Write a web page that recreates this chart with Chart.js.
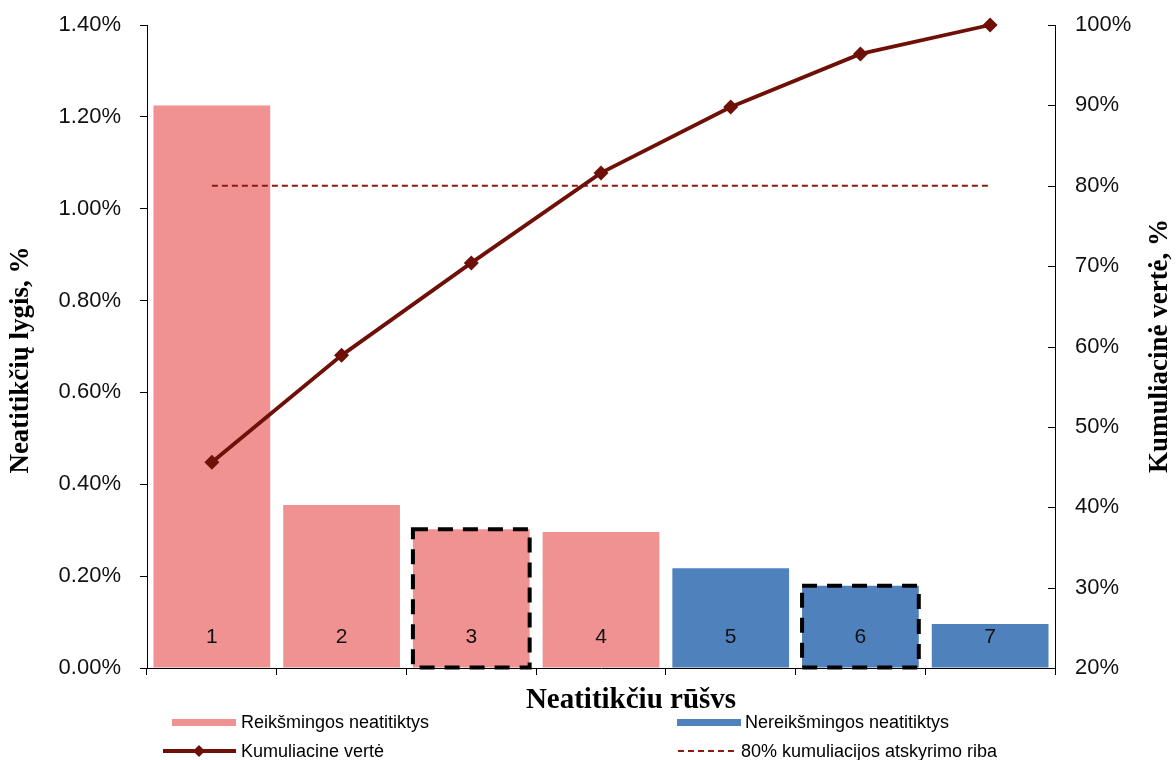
<!DOCTYPE html>
<html>
<head>
<meta charset="utf-8">
<script src="https://cdn.jsdelivr.net/npm/chart.js@4.4.1/dist/chart.umd.min.js"></script>
<style>
  html, body { margin: 0; padding: 0; background: #ffffff; }
  #wrap { width: 1176px; height: 760px; }
</style>
</head>
<body>
<div id="wrap"><canvas id="pareto" width="1176" height="760"></canvas></div>
<script>
// Neatitikčių rūšys (categories) and their levels, %
const categories = ['1', '2', '3', '4', '5', '6', '7'];
const levels = [1.225, 0.355, 0.302, 0.296, 0.217, 0.179, 0.096];
// Cumulative share, %
const cumulative = [45.6, 58.9, 70.4, 81.6, 89.8, 96.4, 100];
// 80 % cut-off line
const cutoff = [80, 80, 80, 80, 80, 80, 80];
// Which categories are significant (pink) vs. insignificant (blue)
const significant = [true, true, true, true, false, false, false];
// Categories framed with a dashed outline
const outlined = [false, false, true, false, false, true, false];

const leftTickLabels = ['0.00%', '0.20%', '0.40%', '0.60%', '0.80%', '1.00%', '1.20%', '1.40%'];
const rightTickLabels = ['20%', '30%', '40%', '50%', '60%', '70%', '80%', '90%', '100%'];
const legendNames = ['Reikšmingos neatitiktys', 'Nereikšmingos neatitiktys',
                     'Kumuliacine vertė', '80% kumuliacijos atskyrimo riba'];
const titleX = 'Neatitikčiu rūšvs';
const titleLeft = 'Neatitikčių lygis, %';
const titleRight = 'Kumuliacinė vertė, %';

const PINK = '#f09292';
const BLUE = '#4f81bd';
const LINE = '#6e1008';
const CUT = '#8b1a10';
const SANS = '"Liberation Sans", Arial, sans-serif';
const SERIF = '"Liberation Serif", "Times New Roman", serif';

Chart.defaults.font.family = SANS;
Chart.defaults.color = '#111';

// Numbers inside bars and dashed frames around selected bars
const barDecor = {
  id: 'barDecor',
  afterDatasetsDraw(chart) {
    const meta = chart.getDatasetMeta(0);
    const ctx = chart.ctx;
    ctx.save();
    meta.data.forEach((el, i) => {
      ctx.fillStyle = '#111';
      ctx.font = '21px ' + SANS;
      ctx.textAlign = 'center';
      ctx.textBaseline = 'middle';
      ctx.fillText(categories[i], el.x, el.base - 30);
      if (outlined[i]) {
        ctx.strokeStyle = '#000';
        ctx.lineWidth = 4;
        ctx.setLineDash([15, 10]);
        ctx.strokeRect(el.x - el.width / 2, el.y, el.width, el.base - el.y);
        ctx.setLineDash([]);
      }
    });
    ctx.restore();
  }
};

// Axis titles, inward ticks on the right axis and the two-column legend
const frame = {
  id: 'frame',
  afterDraw(chart) {
    const ctx = chart.ctx;
    const y1 = chart.scales.y1;
    ctx.save();
    ctx.strokeStyle = '#000';
    ctx.lineWidth = 1;
    y1.ticks.forEach(t => {
      const py = Math.round(y1.getPixelForValue(t.value)) + 0.5;
      ctx.beginPath();
      ctx.moveTo(y1.left - 7, py);
      ctx.lineTo(y1.left, py);
      ctx.stroke();
    });

    ctx.fillStyle = '#000';
    ctx.textAlign = 'center';
    ctx.textBaseline = 'middle';
    ctx.font = 'bold 29px ' + SERIF;
    ctx.fillText(titleX, 631, 701);

    ctx.font = 'bold 27px ' + SERIF;
    ctx.save();
    ctx.translate(21, 360);
    ctx.rotate(-Math.PI / 2);
    ctx.fillText(titleLeft, 0, 0);
    ctx.restore();
    ctx.save();
    ctx.translate(1160, 346);
    ctx.rotate(-Math.PI / 2);
    ctx.fillText(titleRight, 0, 0);
    ctx.restore();

    // legend
    ctx.font = '18px ' + SANS;
    ctx.textAlign = 'left';
    ctx.fillStyle = PINK;
    ctx.fillRect(172, 719, 64, 7);
    ctx.fillStyle = BLUE;
    ctx.fillRect(677, 719, 64, 7);

    ctx.strokeStyle = LINE;
    ctx.lineWidth = 4;
    ctx.beginPath();
    ctx.moveTo(163, 751);
    ctx.lineTo(236, 751);
    ctx.stroke();
    ctx.fillStyle = LINE;
    ctx.beginPath();
    ctx.moveTo(199, 745);
    ctx.lineTo(205, 751);
    ctx.lineTo(199, 757);
    ctx.lineTo(193, 751);
    ctx.closePath();
    ctx.fill();

    ctx.strokeStyle = CUT;
    ctx.lineWidth = 2;
    ctx.setLineDash([6, 4]);
    ctx.beginPath();
    ctx.moveTo(678, 751);
    ctx.lineTo(736, 751);
    ctx.stroke();
    ctx.setLineDash([]);

    ctx.fillStyle = '#000';
    ctx.fillText(legendNames[0], 241, 723);
    ctx.fillText(legendNames[1], 745, 723);
    ctx.fillText(legendNames[2], 241, 752);
    ctx.fillText(legendNames[3], 741, 752);
    ctx.restore();
  }
};

// Vertical axes keep a fixed width and do not reserve extra room for end labels
function fixVertical(width) {
  return function (scale) {
    scale.width = width;
    scale.paddingTop = 0;
    scale.paddingBottom = 0;
  };
}

new Chart(document.getElementById('pareto'), {
  data: {
    labels: categories,
    datasets: [
      {
        type: 'bar',
        label: legendNames[0],
        data: levels,
        yAxisID: 'y',
        order: 2,
        backgroundColor: significant.map(s => s ? PINK : BLUE),
        borderWidth: 0,
        categoryPercentage: 1,
        barPercentage: 0.9
      },
      {
        type: 'line',
        label: legendNames[3],
        data: cutoff,
        yAxisID: 'y1',
        order: 1,
        borderColor: CUT,
        borderWidth: 2,
        borderDash: [6, 4],
        pointRadius: 0,
        fill: false
      },
      {
        type: 'line',
        label: legendNames[2],
        data: cumulative,
        yAxisID: 'y1',
        order: 0,
        clip: false,
        borderColor: LINE,
        borderWidth: 3.8,
        pointStyle: 'rectRot',
        pointRadius: 7.5,
        pointBackgroundColor: LINE,
        pointBorderColor: LINE,
        pointBorderWidth: 0,
        tension: 0,
        fill: false
      }
    ]
  },
  options: {
    responsive: false,
    animation: false,
    layout: { padding: { top: 25, left: 0, right: 0, bottom: 0 } },
    plugins: {
      legend: { display: false },
      tooltip: { enabled: false }
    },
    scales: {
      x: {
        type: 'category',
        offset: true,
        grid: { offset: true, drawOnChartArea: false, tickLength: 7, color: '#000' },
        border: { display: true, color: '#000', width: 1 },
        ticks: { display: false },
        afterFit(scale) {
          scale.height = 92;
          scale.paddingLeft = 0;
          scale.paddingRight = 0;
        }
      },
      y: {
        position: 'left',
        min: 0,
        max: 1.4,
        ticks: {
          stepSize: 0.2,
          padding: 19,
          font: { size: 22 },
          color: '#111',
          callback: (v, i) => leftTickLabels[i]
        },
        grid: { drawOnChartArea: false, tickLength: 7, color: '#000' },
        border: { display: true, color: '#000', width: 1 },
        afterFit: fixVertical(147)
      },
      y1: {
        position: 'right',
        min: 20,
        max: 100,
        ticks: {
          stepSize: 10,
          padding: 20,
          font: { size: 22 },
          color: '#111',
          callback: (v, i) => rightTickLabels[i]
        },
        grid: { drawOnChartArea: false, drawTicks: false, color: '#000' },
        border: { display: true, color: '#000', width: 1 },
        afterFit: fixVertical(121)
      }
    }
  },
  plugins: [barDecor, frame]
});
</script>
</body>
</html>
